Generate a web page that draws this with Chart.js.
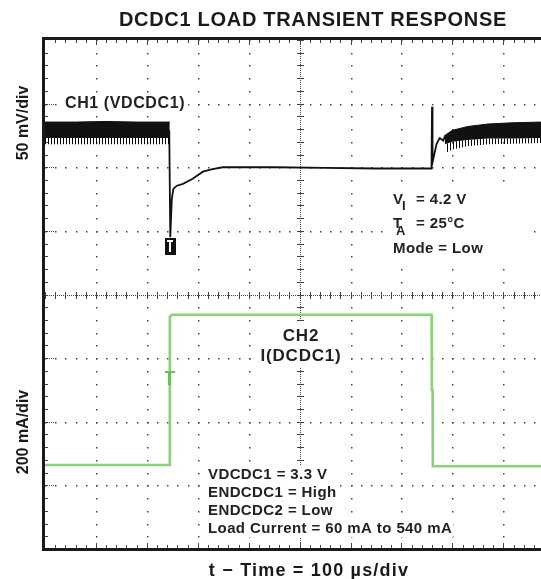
<!DOCTYPE html>
<html>
<head>
<meta charset="utf-8">
<script src="https://cdn.jsdelivr.net/npm/chart.js@4/dist/chart.umd.min.js"></script>
<style>
html,body{margin:0;padding:0;background:#fff;overflow:hidden;}
#wrap{width:541px;height:579px;}
</style>
</head>
<body>
<div id="wrap"><canvas id="c" width="541" height="579"></canvas></div>
<script>
// ---- DATA (time in µs, CH1 in mV relative to idle level, CH2 in mA) ----
const chartTitle = "DCDC1 LOAD TRANSIENT RESPONSE";
const xTitle = "t \u2212 Time = 100 \u00b5s/div";
const yTitleCh1 = "50 mV/div";
const yTitleCh2 = "200 mA/div";

// CH1 ripple band before the load step (upper edge, solid lower edge, ripple tips)
const bandLeftT     = [0, 60, 120, 180, 245];
const bandLeftTop   = [5.5, 5.5, 6, 5.5, 5.5];
const bandLeftBody  = [-7, -7, -7, -7, -7];
const bandLeftTeeth = [-12, -12, -12, -12, -12];

// CH1 ripple band after the load release
const bandRightT     = [785, 800, 830, 870, 920, 974];
const bandRightTop   = [-5, -1, 2, 4, 5, 5.5];
const bandRightBody  = [-12, -10, -8.5, -7.5, -7.5, -7];
const bandRightTeeth = [-19, -16, -13.5, -12, -11.5, -11];

// CH1 transient trace
const ch1T = [244, 246, 249, 252, 259, 271, 290, 310, 329, 349, 380, 450, 550, 650, 720, 759, 760, 761, 769, 775, 782, 786];
const ch1V = [-1, -85, -55, -47, -44.5, -43, -39, -33.5, -31.5, -30, -30, -30, -30.5, -31, -31, -31, 17.5, -26, -11.5, -7, -9, -5];

// CH2 load current trace
const ch2T = [0, 244, 245, 249, 759, 759.5, 761, 761.5, 974];
const ch2I = [64, 64, 530, 536, 536, 300, 300, 60, 60];

// trigger markers
const trig1 = {t: 246, v: -92};
const trig2 = {t: 245, i: 360};

const annotCh1 = "CH1 (VDCDC1)";
const annotCh2 = ["CH2", "I(DCDC1)"];
const condLines = ["VDCDC1 = 3.3 V", "ENDCDC1 = High", "ENDCDC2 = Low", "Load Current = 60 mA to 540 mA"];

// ---- helpers ----
const pts = (xs, ys) => xs.map((x, i) => ({x: x, y: ys[i]}));
const FONT = '"Liberation Sans", Arial, Helvetica, sans-serif';

const pc = document.createElement('canvas');
pc.width = 3; pc.height = 1;
const pctx = pc.getContext('2d');
pctx.fillStyle = '#000'; pctx.fillRect(0, 0, 1, 1);
const teethPattern = pctx.createPattern(pc, 'repeat');

const scopePlugin = {
  id: 'scope',
  beforeDatasetsDraw(chart) {
    const {ctx, chartArea: a, scales} = chart;
    const X = v => scales.x.getPixelForValue(v);
    const G = v => scales.yG.getPixelForValue(v);
    ctx.save();
    ctx.fillStyle = '#fff';
    ctx.fillRect(a.left, a.top, a.right - a.left, a.bottom - a.top);
    ctx.fillStyle = '#444';
    // vertical major lines (dots)
    for (let t = 100; t <= 900; t += 100) {
      if (t === 500) continue;
      const px = Math.round(X(t));
      for (let k = -20; k <= 20; k++) {
        const py = Math.round(G(k * 0.2));
        ctx.fillRect(px, py, 1.5, 1.5);
      }
    }
    // horizontal major rows (dots)
    for (let d = -3; d <= 3; d++) {
      if (d === 0) continue;
      const py = Math.round(G(d));
      for (let t = 0; t <= 1000; t += 20) {
        ctx.fillRect(Math.round(X(t)), py, 1.5, 1.5);
      }
      for (let q = 2; q <= 8; q += 2) ctx.fillRect(a.left + q, py, 1, 1);
    }
    // centre crosshair
    const cx = Math.round(X(500)), cy = Math.round(G(0));
    for (let py = a.top; py < a.bottom; py += 2) ctx.fillRect(cx, py, 1, 1);
    for (let px = a.left; px < a.right; px += 2) ctx.fillRect(px, cy, 1, 1);
    for (let k = -20; k <= 20; k++) {
      const py = Math.round(G(k * 0.2));
      ctx.fillRect(cx - 3, py, 7, 1);
    }
    for (let t = 0; t <= 1000; t += 20) {
      const px = Math.round(X(t));
      ctx.fillRect(px, cy - 3, 1, 7);
    }
    // border ticks
    for (let t = 20; t <= 1000; t += 20) {
      const px = Math.round(X(t));
      ctx.fillRect(px, a.top, 1, t % 100 === 0 ? 5 : 3);
      ctx.fillRect(px, a.bottom - (t % 100 === 0 ? 6 : 4), 1, t % 100 === 0 ? 5 : 3);
    }
    for (let k = -19; k <= 19; k++) {
      const py = Math.round(G(k * 0.2));
      ctx.fillRect(a.left, py, 3, 1);
    }
    // border
    ctx.fillStyle = '#1a1a1a';
    ctx.fillRect(a.left - 3, a.top - 3, 3, a.bottom - a.top + 5);
    ctx.fillRect(a.left - 3, a.top - 3, a.right - a.left + 3, 3);
    ctx.fillRect(a.left - 3, a.bottom - 1, a.right - a.left + 3, 3);

    // white boxes behind annotations
    ctx.fillStyle = '#fff';
    ctx.font = 'bold 16px ' + FONT;
    ctx.letterSpacing = '0.6px';
    const w1 = ctx.measureText(annotCh1).width;
    ctx.fillRect(62, 93, w1 + 6, 19);
    ctx.fillRect(386, 185, 144, 77);
    ctx.fillRect(254, 321, 94, 47);
    ctx.font = 'bold 15px ' + FONT;
    ctx.letterSpacing = '0.4px';
    condLines.forEach((s, i) => {
      const w = ctx.measureText(s).width;
      ctx.fillRect(205, 479 + i * 18 - 13, w + 4, 17);
    });
    ctx.letterSpacing = '0px';
    ctx.restore();
  },
  afterDatasetsDraw(chart) {
    const {ctx, scales} = chart;
    const X = v => scales.x.getPixelForValue(v);
    ctx.save();
    // CH1 trigger marker
    const tx = X(trig1.t), ty = scales.yV.getPixelForValue(trig1.v);
    ctx.fillStyle = '#111';
    ctx.fillRect(Math.round(tx - 5.5), Math.round(ty - 8.5), 11, 17);
    ctx.fillStyle = '#fff';
    ctx.fillRect(Math.round(tx - 3), Math.round(ty - 6), 6, 2);
    ctx.fillRect(Math.round(tx - 1), Math.round(ty - 6), 2, 12);
    // CH2 trigger marker
    const gx = X(trig2.t), gy = scales.yI.getPixelForValue(trig2.i);
    ctx.fillStyle = '#66c052';
    ctx.fillRect(Math.round(gx - 5), Math.round(gy), 10, 2);
    ctx.fillRect(Math.round(gx - 1.5), Math.round(gy), 3, 14);
    ctx.restore();
  },
  afterDraw(chart) {
    const {ctx} = chart;
    ctx.save();
    ctx.fillStyle = '#1a1a1a';
    // title
    ctx.font = 'bold 20px ' + FONT;
    ctx.letterSpacing = '0.7px';
    ctx.textAlign = 'center';
    ctx.fillText(chartTitle, 313, 26);
    // x title
    ctx.font = 'bold 18px ' + FONT;
    ctx.letterSpacing = '1.2px';
    ctx.fillText(xTitle, 309, 576);
    // y titles
    ctx.letterSpacing = '0px';
    ctx.font = 'bold 16px ' + FONT;
    [[yTitleCh1, 123], [yTitleCh2, 432]].forEach(([s, cy]) => {
      ctx.save();
      ctx.translate(28, cy);
      ctx.rotate(-Math.PI / 2);
      ctx.fillText(s, 0, 0);
      ctx.restore();
    });
    // CH1 label
    ctx.textAlign = 'left';
    ctx.fillStyle = '#222';
    ctx.font = 'bold 16px ' + FONT;
    ctx.letterSpacing = '0.6px';
    ctx.fillText(annotCh1, 65, 108);
    // CH2 label
    ctx.textAlign = 'center';
    ctx.font = 'bold 17px ' + FONT;
    ctx.letterSpacing = '0.8px';
    ctx.fillText(annotCh2[0], 301, 341);
    ctx.fillText(annotCh2[1], 301, 361);
    // conditions (V_I, T_A, Mode)
    ctx.textAlign = 'left';
    ctx.font = 'bold 15px ' + FONT;
    ctx.letterSpacing = '0.4px';
    ctx.fillText('V', 393, 204);
    ctx.fillText('= 4.2 V', 416, 204);
    ctx.fillText('T', 393, 228);
    ctx.fillText('= 25\u00b0C', 416, 228);
    ctx.fillText('Mode = Low', 393, 253);
    ctx.font = 'bold 13px ' + FONT;
    ctx.letterSpacing = '0px';
    ctx.fillText('I', 402, 210);
    ctx.fillText('A', 396, 235);
    // load conditions
    ctx.font = 'bold 15px ' + FONT;
    ctx.letterSpacing = '0.4px';
    condLines.forEach((s, i) => ctx.fillText(s, 208, 479 + i * 18));
    ctx.restore();
  }
};

const band = (xs, ys, fill, bg, bw) => ({
  data: pts(xs, ys), yAxisID: 'yV', borderColor: '#111', borderWidth: bw,
  backgroundColor: bg, fill: fill, pointRadius: 0, tension: 0
});

new Chart(document.getElementById('c'), {
  type: 'line',
  data: {
    datasets: [
      band(bandLeftT, bandLeftTop, '+1', '#111', 1),
      band(bandLeftT, bandLeftBody, '+1', teethPattern, 0),
      band(bandLeftT, bandLeftTeeth, false, 'transparent', 0),
      band(bandRightT, bandRightTop, '+1', '#111', 1),
      band(bandRightT, bandRightBody, '+1', teethPattern, 0),
      band(bandRightT, bandRightTeeth, false, 'transparent', 0),
      {data: pts(ch1T, ch1V), yAxisID: 'yV', borderColor: '#111', borderWidth: 1.8,
       pointRadius: 0, fill: false, tension: 0},
      {data: pts(ch2T, ch2I), yAxisID: 'yI', borderColor: '#8ad378', borderWidth: 2.5,
       pointRadius: 0, fill: false, tension: 0}
    ]
  },
  options: {
    responsive: false,
    animation: false,
    devicePixelRatio: 1,
    layout: {padding: {left: 45, top: 40, right: 0, bottom: 30}},
    plugins: {legend: {display: false}, tooltip: {enabled: false}, title: {display: false}},
    scales: {
      x: {type: 'linear', min: 0, max: 974, display: false},
      yG: {type: 'linear', min: -4, max: 4, display: false},
      yV: {type: 'linear', min: -330, max: 70, display: false},
      yI: {type: 'linear', min: -200, max: 1400, display: false}
    }
  },
  plugins: [scopePlugin]
});
</script>
</body>
</html>
